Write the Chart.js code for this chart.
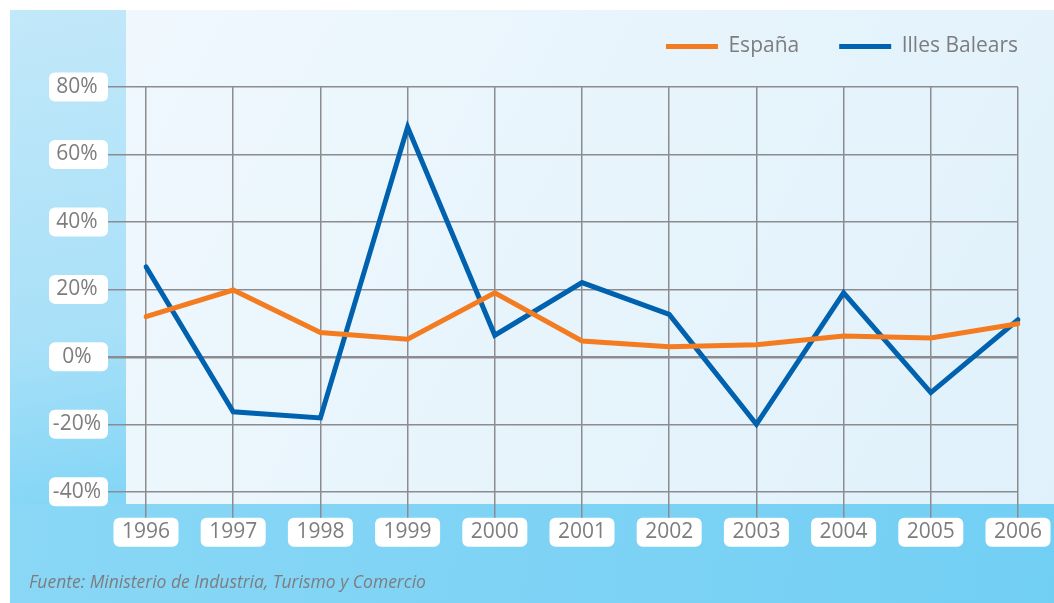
<!DOCTYPE html>
<html>
<head>
<meta charset="utf-8">
<script src="https://cdn.jsdelivr.net/npm/chart.js@4/dist/chart.umd.min.js"></script>
<style>
  html, body { margin: 0; padding: 0; background: #fff; }
  #wrap { width: 1054px; height: 603px; }
</style>
</head>
<body>
<div id="wrap"><canvas id="chart" width="1054" height="603"></canvas></div>
<script>
// values (% change per year)
const years = ['1996', '1997', '1998', '1999', '2000', '2001', '2002', '2003', '2004', '2005', '2006'];
const espana = [11.9, 19.8, 7.2, 5.2, 19, 4.7, 3, 3.6, 6.2, 5.6, 9.8];
const baleares = [26.7, -16.3, -18.1, 68.1, 6.4, 22, 12.6, -20, 19, -10.6, 11];
const yTicks = [-40, -20, 0, 20, 40, 60, 80];
const sourceNote = 'Fuente: Ministerio de Industria, Turismo y Comercio';

const labelFont = { family: 'Open Sans', size: 21 };
const textGrey = '#7d7d7f';
const gridGrey = '#8b8b90';

function roundBox(ctx, x, y, w, h, r) {
    ctx.beginPath();
    ctx.moveTo(x + r, y);
    ctx.arcTo(x + w, y, x + w, y + h, r);
    ctx.arcTo(x + w, y + h, x, y + h, r);
    ctx.arcTo(x, y + h, x, y, r);
    ctx.arcTo(x, y, x + w, y, r);
    ctx.closePath();
    ctx.fill();
}

// panels behind the chart plus the white boxes behind tick labels
const backdrop = {
    id: 'backdrop',
    beforeDraw(chart) {
        const {ctx, chartArea, scales} = chart;
        const W = chart.width, H = chart.height;
        ctx.save();
        ctx.fillStyle = '#ffffff';
        ctx.fillRect(0, 0, W, H);

        // light main panel
        let g = ctx.createLinearGradient(126, 10, 1054, 503);
        g.addColorStop(0, '#f0f8fe');
        g.addColorStop(0.5, '#e7f4fc');
        g.addColorStop(1, '#e0f1fb');
        ctx.fillStyle = g;
        ctx.fillRect(10, 10, W - 10, H - 10);

        // left strip
        g = ctx.createLinearGradient(10, 10, 126, 603);
        g.addColorStop(0, '#c2e8f9');
        g.addColorStop(0.55, '#a8e0f8');
        g.addColorStop(1, '#6ccff5');
        ctx.fillStyle = g;
        ctx.fillRect(10, 10, 116, H - 10);

        // bottom band
        g = ctx.createLinearGradient(10, 504, 1054, 603);
        g.addColorStop(0, '#8ad7f6');
        g.addColorStop(1, '#72cff4');
        ctx.fillStyle = g;
        ctx.fillRect(10, 504, W - 10, H - 504);

        // label boxes
        ctx.fillStyle = '#ffffff';
        const y = scales.y, x = scales.x;
        const boxRight = chartArea.left - y.options.grid.tickLength;
        y.ticks.forEach((t, i) => {
            const py = y.getPixelForTick(i);
            roundBox(ctx, boxRight - 59, py - 14.5, 59, 29, 6);
        });
        const boxTop = chartArea.bottom + x.options.grid.tickLength;
        x.ticks.forEach((t, i) => {
            const px = x.getPixelForTick(i);
            roundBox(ctx, px - 32.5, boxTop, 65, 29, 6);
        });
        ctx.restore();
    }
};

new Chart(document.getElementById('chart').getContext('2d'), {
    type: 'line',
    data: {
        labels: years,
        datasets: [
            {
                label: 'España',
                data: espana,
                borderColor: '#f47c20',
                backgroundColor: '#f47c20',
                borderWidth: 5,
                borderCapStyle: 'round',
                pointRadius: 0,
                tension: 0,
            },
            {
                label: 'Illes Balears',
                data: baleares,
                borderColor: '#0062ae',
                backgroundColor: '#0062ae',
                borderWidth: 5,
                borderCapStyle: 'round',
                pointRadius: 0,
                tension: 0,
            },
        ],
    },
    options: {
        responsive: false,
        animation: false,
        layout: { padding: { left: 29, right: -4, top: -4, bottom: 10 } },
        plugins: {
            tooltip: { enabled: false },
            legend: {
                position: 'top',
                align: 'end',
                labels: {
                    usePointStyle: true,
                    pointStyle: 'line',
                    pointStyleWidth: 52,
                    padding: 40,
                    color: textGrey,
                    font: labelFont,
                },
            },
            // spacer between legend and plot
            subtitle: {
                display: true,
                text: '',
                position: 'top',
                weight: 0,
                font: { size: 1, lineHeight: 1 },
                padding: { top: 0, bottom: 19 },
            },
            title: {
                display: true,
                text: sourceNote,
                position: 'bottom',
                align: 'start',
                color: textGrey,
                font: { family: 'Open Sans', size: 17.5, style: 'italic', weight: 'normal', lineHeight: 1.1 },
                padding: 0,
            },
        },
        scales: {
            x: {
                offset: false,
                border: { display: false },
                grid: { color: gridGrey, lineWidth: 1.5, tickLength: 26, tickColor: gridGrey },
                ticks: { color: textGrey, font: labelFont, padding: 2, maxRotation: 0 },
                afterFit(s) { s.height = 82; s.paddingRight = 36; s.paddingLeft = 0; },
            },
            y: {
                min: -40,
                max: 80,
                border: { display: false },
                afterBuildTicks(s) { s.ticks = yTicks.map(v => ({ value: v })); },
                grid: {
                    color: gridGrey,
                    lineWidth: ctx => (ctx.tick && ctx.tick.value === 0 ? 2.5 : 1.5),
                    tickLength: 38,
                    tickColor: gridGrey,
                },
                ticks: {
                    color: textGrey,
                    font: labelFont,
                    padding: 7,
                    crossAlign: 'center',
                    callback: v => v + '%',
                },
                afterFit(s) { s.width = 117; },
            },
        },
    },
    plugins: [backdrop],
});
</script>
</body>
</html>
